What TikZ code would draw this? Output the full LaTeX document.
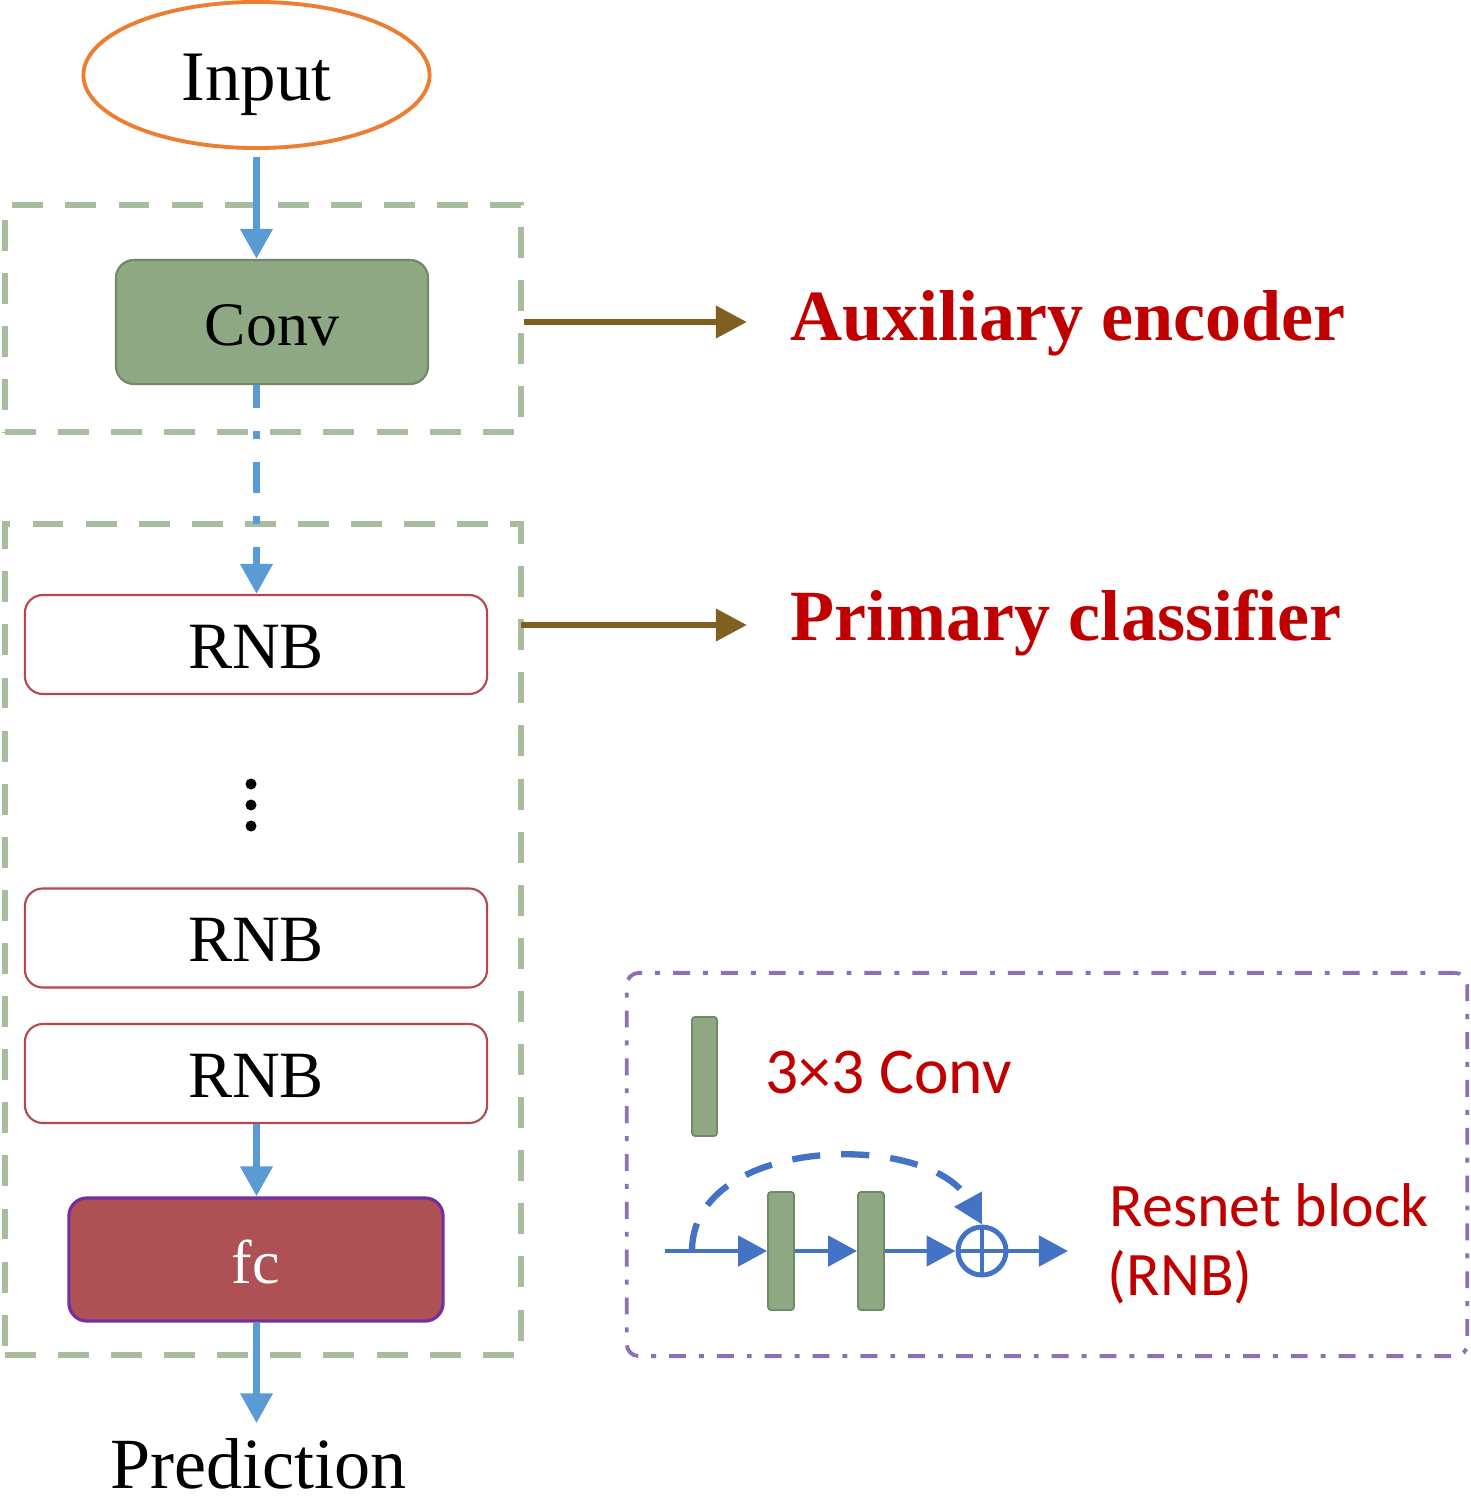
\documentclass[tikz,border=0pt]{standalone}
\usepackage{fontspec}
\setmainfont{Liberation Serif}
\newfontfamily\calfont{Carlito}
\usetikzlibrary{shapes.geometric,arrows.meta,calc}
\definecolor{blueA}{HTML}{5B9BD5}
\definecolor{blueB}{HTML}{4472C4}
\definecolor{greenFill}{HTML}{8FA884}
\definecolor{greenStroke}{HTML}{6F8A64}
\definecolor{greenDash}{HTML}{A8BC9E}
\definecolor{brownC}{HTML}{7F6020}
\definecolor{redT}{HTML}{C00000}
\definecolor{fcFill}{HTML}{AD5155}
\definecolor{purpleS}{HTML}{7030A0}
\definecolor{rnbStroke}{HTML}{B5484B}
\definecolor{orangeC}{HTML}{ED7D31}
\definecolor{purpleDash}{HTML}{8F6EB6}
\begin{document}
\begin{tikzpicture}[x=0.01cm,y=-0.01cm,
  bluearrow/.style={draw=blueA, line width=2pt, -{Triangle[length=0.3cm,width=0.31cm]}},
  brownarrow/.style={draw=brownC, line width=1.9pt, -{Triangle[length=0.31cm,width=0.31cm]}},
  rarrow/.style={draw=blueB, line width=1.4pt, -{Triangle[length=0.29cm,width=0.3cm]}},
  groupbox/.style={rectangle, draw=greenDash, line width=1.7pt, dash pattern=on 8.8pt off 6.3pt, minimum width=5.16cm, inner sep=0},
  block/.style={rectangle, rounded corners=0.18cm, minimum width=4.62cm, minimum height=0.99cm, draw=rnbStroke, line width=0.6pt, fill=white, font=\fontsize{18.8pt}{20pt}\selectfont, text height=0.47cm, text depth=0pt, inner sep=0},
  convbox/.style={rectangle, rounded corners=0.18cm, minimum width=3.12cm, minimum height=1.24cm, draw=greenStroke, line width=0.6pt, fill=greenFill, font=\fontsize{17.6pt}{19pt}\selectfont, text height=0.46cm, text depth=0pt, inner sep=0},
  fcbox/.style={rectangle, rounded corners=0.18cm, minimum width=3.74cm, minimum height=1.23cm, draw=purpleS, line width=0.9pt, fill=fcFill, text=white, font=\fontsize{17.6pt}{19pt}\selectfont, text height=0.47cm, text depth=0pt, inner sep=0},
  convbar/.style={rectangle, rounded corners=0.03cm, minimum width=0.26cm, minimum height=1.18cm, draw=greenStroke, line width=0.5pt, fill=greenFill, inner sep=0},
  blackdot/.style={circle, fill=black, minimum size=0.11cm, inner sep=0},
  redlabel/.style={font=\bfseries\fontsize{20.5pt}{22pt}\selectfont, text=redT, inner sep=0},
  callabel/.style={font=\calfont\fontsize{17.6pt}{19pt}\selectfont, text=redT, inner sep=0}
]
\useasboundingbox (0,0) rectangle (1471,1500);

% group boxes
\node[groupbox, minimum height=2.27cm] (enc) at (263,318.5) {};
\node[groupbox, minimum height=8.31cm] (cls) at (263,939.5) {};

% main column
\node[ellipse, draw=orangeC, line width=1.1pt, minimum width=3.46cm, minimum height=1.46cm, inner sep=0, text height=0.5cm, text depth=0pt, font=\fontsize{20.2pt}{22pt}\selectfont] (in) at (256.5,75) {Input};
\node[convbox] (conv) at (272,322) {Conv};
\node[block] (r1) at (256,644.5) {RNB};
\node[blackdot] (d1) at (251,784) {};
\node[blackdot] (d2) at (251,805) {};
\node[blackdot] (d3) at (251,826) {};
\node[block] (r2) at (256,938) {RNB};
\node[block] (r3) at (256,1073.5) {RNB};
\node[fcbox] (fc) at (256,1259.5) {fc};
\node[anchor=base, inner sep=0, font=\fontsize{20.5pt}{22pt}\selectfont] (pred) at (258.5,1488) {Prediction};

\draw[bluearrow, shorten <=0.07cm] (in.south) -- (in.south |- conv.north);
\draw[bluearrow, dash pattern=on 8.8pt off 6.5pt on 2.3pt off 6.5pt, dash phase=2.3pt] (in.south |- conv.south) -- (in.south |- r1.north);
\draw[bluearrow] (in.south |- r3.south) -- (in.south |- fc.north);
\draw[bluearrow, shorten >=0.14cm] (in.south |- fc.south) -- (in.south |- pred.north);

% side labels
\node[redlabel, anchor=base west] (aux) at (790,340) {Auxiliary encoder};
\node[redlabel, anchor=base west] (pri) at (790,640) {Primary classifier};
\draw[brownarrow, shorten >=0.43cm] (conv -| enc.east) -- (conv -| aux.west);
\coordinate (a2) at (521,625);
\draw[brownarrow, shorten >=0.43cm] (a2) -- (a2 -| pri.west);

% legend
\node[rectangle, draw=purpleDash, line width=1.1pt, dash pattern=on 4.8pt off 3.7pt on 1.4pt off 3.7pt, rounded corners=0.12cm, minimum width=8.4cm, minimum height=3.83cm, inner sep=0] (leg) at (1047,1164.5) {};
\node[convbar, minimum width=0.25cm, minimum height=1.19cm] (lb) at (704.5,1076.5) {};
\node[callabel, anchor=base west, font=\calfont\fontsize{18.6pt}{20pt}\selectfont] (lt) at (765,1093) {3×3 Conv};

\coordinate (rin) at (665,1251);
\node[convbar] (b1) at (781,1251) {};
\node[convbar] (b2) at (871,1251) {};
\node[circle, draw=blueB, line width=1.4pt, minimum size=0.48cm, inner sep=0] (sum) at (982,1251) {};
\draw[blueB, line width=1.4pt] (sum.north) -- (sum.south) (sum.west) -- (sum.east);
\coordinate (rout) at (1068,1251);
\draw[rarrow] (rin) -- (b1.west);
\draw[rarrow] (b1.east) -- (b2.west);
\draw[rarrow] (b2.east) -- (sum.west);
\draw[rarrow] (sum.east) -- (rout);
\coordinate (arcstart) at (692,1251);
\draw[rarrow, line width=1.8pt, dash pattern=on 8pt off 6pt] (arcstart) .. controls (692,1135) and (930,1130) .. (sum.north);

\node[callabel, anchor=base west] (rb1) at (1109,1226) {Resnet block};
\node[callabel, anchor=base west] (rb2) at (1107,1295) {(RNB)};
\end{tikzpicture}
\end{document}
